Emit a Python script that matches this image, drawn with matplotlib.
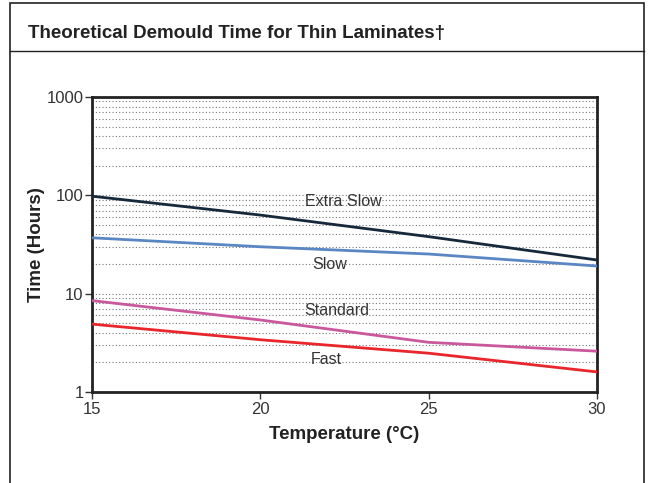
import matplotlib
matplotlib.use("Agg")
import matplotlib.pyplot as plt
from matplotlib.ticker import LogLocator, FixedLocator, NullFormatter
from matplotlib.patches import Rectangle
from matplotlib.lines import Line2D

plt.rcParams['font.family'] = ['Liberation Sans Narrow', 'Liberation Sans', 'DejaVu Sans']

temperature = [15, 20, 25, 30]
extra_slow = [98, 63, 38, 22]
slow = [37, 30, 25.3, 19.1]
standard = [8.5, 5.4, 3.2, 2.6]
fast = [4.9, 3.4, 2.48, 1.6]
series_names = ["Extra Slow", "Slow", "Standard", "Fast"]
label_pos = [(22.46, 85.7), (22.07, 19.6), (22.28, 6.67), (21.95, 2.12)]
x_ticks = [15, 20, 25, 30]
y_ticks = [1, 10, 100, 1000]
y_ticklabels = ["1", "10", "100", "1000"]

colors = ["#16293a", "#5a87c3", "#c9589c", "#e8262b"]

fig = plt.figure(figsize=(6.53, 4.83), dpi=100)
ax = fig.add_axes([92/653, 1-392/483, (597-92)/653, (392-97)/483])

# frame decorations
fig.add_artist(Rectangle((10/653, -0.05), (644-10)/653, 1.05 - 3/483, transform=fig.transFigure,
                         fill=False, edgecolor="#222222", linewidth=1.2))
fig.add_artist(Line2D([10/653, 644/653], [1-51/483, 1-51/483], transform=fig.transFigure,
                      color="#222222", linewidth=1.0))
fig.text(28/653, 1-33/483, "Theoretical Demould Time for Thin Laminates\u2020", fontsize=13.5,
         fontweight="bold", va="center", ha="left", color="#222222")

for vals, c in zip([extra_slow, slow, standard, fast], colors):
    ax.plot(temperature, vals, color=c, linewidth=2, zorder=3)

for name, (lx, ly) in zip(series_names, label_pos):
    ax.text(lx, ly, name, ha="center", va="center", fontsize=11.5, color="#333333", zorder=4)

ax.set_yscale("log")
ax.set_xlim(15, 30)
ax.set_ylim(1, 1000)
ax.xaxis.set_major_locator(FixedLocator(x_ticks))
ax.set_xticklabels([str(t) for t in x_ticks])
ax.yaxis.set_major_locator(FixedLocator(y_ticks))
ax.set_yticklabels(y_ticklabels)
ax.yaxis.set_minor_locator(LogLocator(base=10, subs=range(2, 10)))
ax.yaxis.set_minor_formatter(NullFormatter())
ax.tick_params(axis="y", which="minor", length=0)
ax.tick_params(axis="both", which="major", direction="out", length=5, width=1,
               labelsize=12, colors="#333333")
ax.tick_params(axis="x", pad=2)
ax.tick_params(axis="y", pad=1)

ax.grid(True, axis="y", which="both", linestyle=(0, (1, 2)), color="#777777", linewidth=0.8)
ax.grid(False, axis="x")

for s in ax.spines.values():
    s.set_linewidth(2)
    s.set_color("#222222")

ax.set_xlabel("Temperature (\u00b0C)", fontsize=13.5, fontweight="bold", color="#222222", labelpad=7)
ax.set_ylabel("Time (Hours)", fontsize=13.5, fontweight="bold", color="#222222", labelpad=1)

fig.savefig("out.png", dpi=100)
